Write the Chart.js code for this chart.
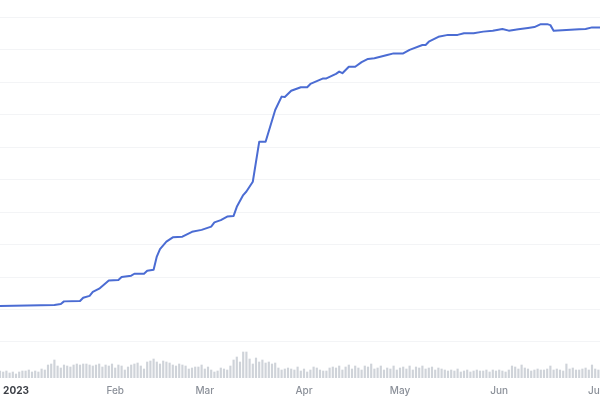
<!DOCTYPE html>
<html>
<head>
<meta charset="utf-8">
<script src="https://cdn.jsdelivr.net/npm/chart.js@4/dist/chart.umd.min.js"></script>
<style>
  html, body { margin: 0; padding: 0; background: #ffffff; }
  #wrap { width: 600px; height: 400px; }
</style>
</head>
<body>
<div id="wrap"><canvas id="c" width="600" height="400"></canvas></div>
<script>
// Days are counted from 2023-01-01 (day 0).
const lineDays = [-5, 12, 14, 15, 20, 21, 23, 24, 26, 29, 32, 33, 36, 37, 40, 41, 43, 44, 45, 47, 49, 52, 55, 58,
  61, 62, 64, 66, 68, 69, 71, 72, 74, 76, 78, 81, 83, 84, 86, 89, 91, 92, 96, 97, 100, 101, 102, 104, 106, 108,
  110, 112, 116, 118, 121, 123, 127, 128, 129, 132, 135, 138, 140, 143, 146, 149, 152, 154, 157, 160, 162, 164,
  166, 167, 168, 172, 176, 178, 180, 183];
const lineValues = [11.1, 11.4, 11.7, 12.5, 12.6, 13.6, 14.2, 15.4, 16.4, 18.9, 19.1, 20.0, 20.4, 21.0, 21.0, 21.9,
  22.2, 26.3, 28.6, 30.9, 32.2, 32.4, 33.9, 34.5, 35.5, 36.8, 37.5, 38.6, 38.8, 41.6, 45.2, 46.3, 49.3, 61.6, 61.6,
  71.4, 75.5, 75.4, 77.3, 78.4, 78.4, 79.4, 81.1, 81.1, 82.5, 83.2, 82.7, 84.7, 84.7, 86.1, 87.1, 87.3, 88.3, 88.8,
  88.8, 89.9, 91.4, 91.4, 92.4, 93.9, 94.5, 94.5, 95.0, 95.0, 95.5, 95.8, 96.3, 95.8, 96.2, 96.6, 96.9, 97.8, 97.8,
  97.5, 95.8, 96.0, 96.2, 96.3, 96.8, 96.8];

// Daily volume, first bar on day -5 (2022-12-27)
const volumeFirstDay = -5;
const volumeValues = [7, 6, 7, 5, 6, 4, 6, 7, 7, 8, 6, 7,
  6, 9, 8, 13, 14, 18, 12, 10,
  13, 12, 11, 13, 14, 13, 14, 14, 13, 12, 13, 14, 11, 13,
  12, 14, 10, 13, 12,
  8, 11, 13, 14, 15, 12, 9,
  16, 17, 19, 16, 14, 17, 16,
  15, 13, 12, 14, 13, 12, 9, 10, 11, 11, 13,
  9, 11, 8, 6, 7, 10, 9, 8,
  12, 18, 21, 16, 26, 26, 19, 14, 20, 16, 18, 15,
  16, 14, 15, 10, 8, 9, 10, 9,
  8, 11, 7, 9, 6, 8, 11, 10, 8, 7,
  7, 10, 11, 10, 12, 8,
  11, 13, 9, 12, 10, 8, 12, 11,
  14, 9, 10, 12, 8, 10, 9, 12, 8, 10,
  11, 9, 12, 8, 11, 10, 12, 9, 10, 11, 8, 10, 9,
  8, 7, 8, 7, 9, 6, 7, 8, 6, 7, 8, 7, 7, 8, 6, 8, 7, 8, 7,
  6, 8, 12, 11, 9, 13, 10, 9,
  7, 8, 9, 8, 8, 9, 12, 8, 9, 8, 7, 14,
  9, 10, 8, 8, 9, 10, 8, 13, 9, 8];

const tickDays = [0, 31, 59, 90, 120, 151, 181];
const tickLabels = ['2023', 'Feb', 'Mar', 'Apr', 'May', 'Jun', 'Jul'];
const gridValues = [0, 10, 20, 30, 40, 50, 60, 70, 80, 90, 100];

const linePoints = lineDays.map((d, i) => ({ x: d, y: lineValues[i] }));
const volumePoints = volumeValues.map((v, i) => ({ x: volumeFirstDay + i, y: v }));

new Chart(document.getElementById('c'), {
  type: 'line',
  data: {
    datasets: [
      {
        type: 'line',
        data: linePoints,
        yAxisID: 'y',
        borderColor: '#4b6cd3',
        borderWidth: 2,
        pointRadius: 0,
        tension: 0,
        borderJoinStyle: 'round',
        order: 1
      },
      {
        type: 'bar',
        data: volumePoints,
        yAxisID: 'yv',
        backgroundColor: '#cfd3d9',
        barThickness: 1.5,
        order: 2
      }
    ]
  },
  options: {
    responsive: false,
    devicePixelRatio: 1,
    animation: false,
    layout: { padding: 0 },
    plugins: { legend: { display: false }, tooltip: { enabled: false } },
    scales: {
      x: {
        type: 'linear',
        min: -5,
        max: 182.5,
        offset: false,
        grid: { display: false, drawTicks: false },
        border: { display: false },
        afterBuildTicks: (scale) => { scale.ticks = tickDays.map(v => ({ value: v })); },
        afterFit: (scale) => { scale.height = 22; scale.paddingLeft = 0; scale.paddingRight = 0; },
        ticks: {
          autoSkip: false,
          maxRotation: 0,
          padding: 7,
          callback: (value) => tickLabels[tickDays.indexOf(value)],
          color: (ctx) => ctx.index === 0 ? '#3d4047' : '#8b9099',
          font: (ctx) => ({ family: 'Inter, "Open Sans", sans-serif', size: 10, weight: ctx.index === 0 ? '700' : '500' })
        }
      },
      y: {
        type: 'linear',
        position: 'left',
        min: -11.077,
        max: 105.231,
        grid: { color: '#f3f4f6', lineWidth: 1, drawTicks: false },
        border: { display: false },
        afterBuildTicks: (scale) => { scale.ticks = gridValues.map(v => ({ value: v })); },
        ticks: { display: false }
      },
      yv: {
        type: 'linear',
        display: false,
        min: 0,
        max: 378
      }
    }
  }
});
</script>
</body>
</html>
